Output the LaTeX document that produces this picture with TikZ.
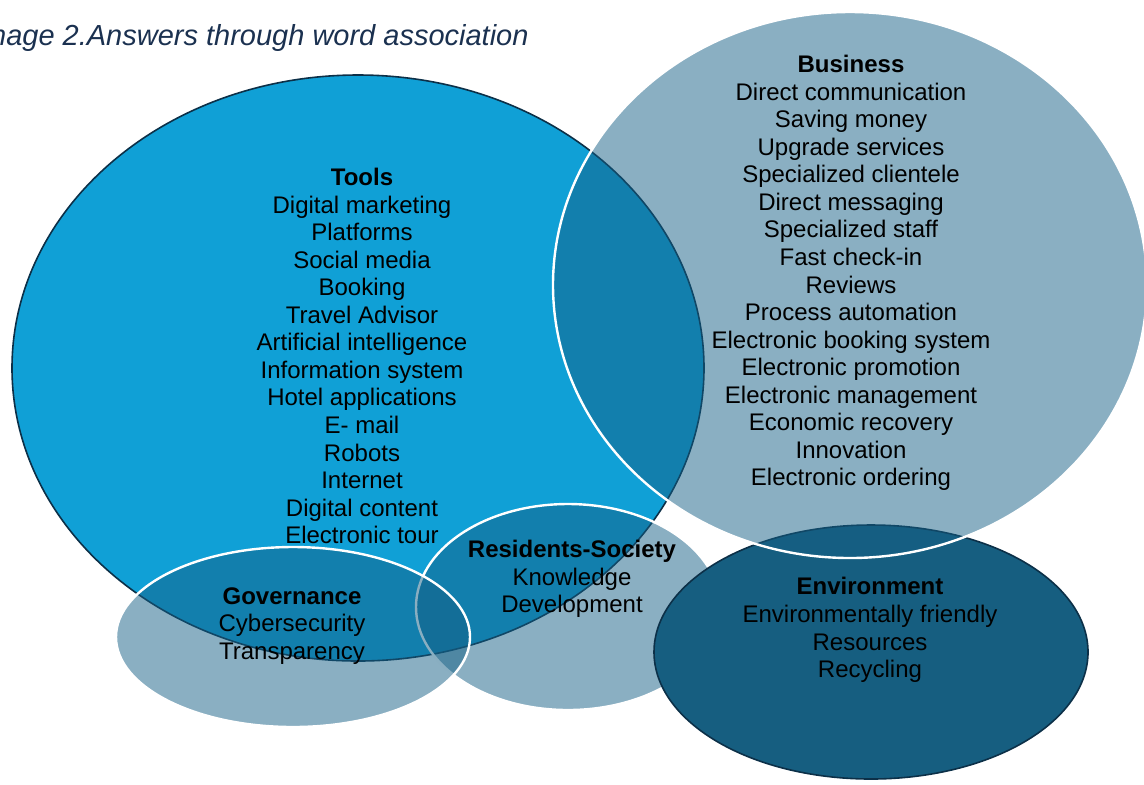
\documentclass[tikz,border=0pt]{standalone}
\usepackage{fontspec}
\setmainfont{Liberation Sans}

\definecolor{toolsblue}{RGB}{16,160,214}
\definecolor{tealblue}{RGB}{21,95,133}
\definecolor{envblue}{RGB}{22,94,128}
\definecolor{edgenavy}{RGB}{12,48,72}
\definecolor{titlenavy}{RGB}{27,49,80}

\begin{document}
\begin{tikzpicture}[x=0.5pt,y=0.5pt,
  set/.style={fill=tealblue,fill opacity=0.5,draw=white,line width=1.2pt},
  solidset/.style={draw=edgenavy,line width=0.8pt},
  words/.style={align=center,inner sep=0pt,font=\fontsize{12}{13.78}\selectfont}]
\useasboundingbox (0,0) rectangle (1144,-784);
% title
\node[anchor=base west,text=titlenavy,font=\fontsize{14.5}{17}\selectfont\itshape]
  (title) at (-33,-45) {Image 2.Answers through word association};
% sets
\draw[solidset,fill=toolsblue] (358,-368) ellipse [x radius=346, y radius=293];
\draw[set] (568,-607) ellipse [x radius=152, y radius=103];
\draw[set] (293,-637) ellipse [x radius=177, y radius=90];
\draw[solidset,fill=envblue] (871,-652) ellipse [x radius=217, y radius=127];
\draw[set] (850,-285) ellipse [x radius=297, y radius=273];
% answers
\node[words] (tools) at (362,-356) {\textbf{Tools}\\Digital marketing\\Platforms\\
  Social media\\Booking\\Travel Advisor\\Artificial intelligence\\
  Information system\\Hotel applications\\E- mail\\Robots\\Internet\\
  Digital content\\Electronic tour};
\node[words] (business) at (851,-273) {\textbf{Business}\\Direct communication\\
  Saving money\\Upgrade services\\Specialized clientele\\Direct messaging\\
  Specialized staff\\Fast check-in\\Reviews\\Process automation\\
  Electronic booking system\\Electronic promotion\\Electronic management\\
  Economic recovery\\Innovation\\Electronic ordering};
\node[words] (governance) at (292,-626) {\textbf{Governance}\\Cybersecurity\\Transparency};
\node[words] (residents) at (572,-579) {\textbf{Residents-Society}\\Knowledge\\Development};
\node[words] (environment) at (870,-630) {\textbf{Environment}\\Environmentally friendly\\
  Resources\\Recycling};
\end{tikzpicture}
\end{document}
